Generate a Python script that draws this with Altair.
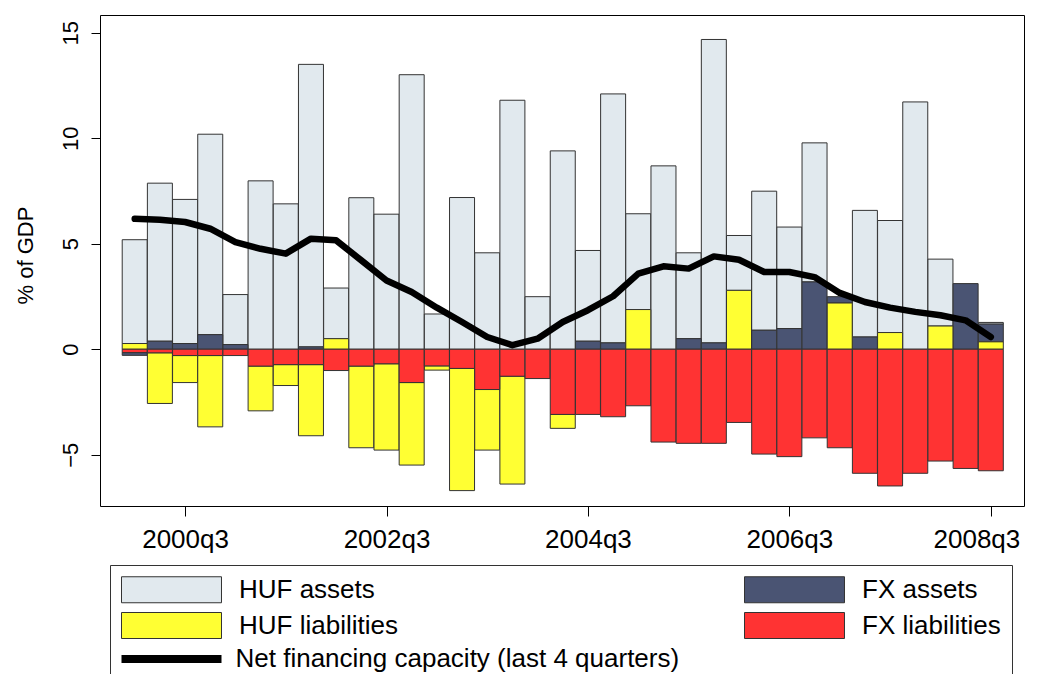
import json
import altair as alt
import pandas as pd

quarters = [
    "2000q1", "2000q2", "2000q3", "2000q4", "2001q1", "2001q2", "2001q3", "2001q4",
    "2002q1", "2002q2", "2002q3", "2002q4", "2003q1", "2003q2", "2003q3", "2003q4",
    "2004q1", "2004q2", "2004q3", "2004q4", "2005q1", "2005q2", "2005q3", "2005q4",
    "2006q1", "2006q2", "2006q3", "2006q4", "2007q1", "2007q2", "2007q3", "2007q4",
    "2008q1", "2008q2", "2008q3",
]
tick_labels = ["2000q3", "2002q3", "2004q3", "2006q3", "2008q3"]

huf_assets = [4.92, 7.49, 6.83, 9.50, 2.37, 7.98, 6.89, 13.39, 2.40, 7.18, 6.40, 13.01,
              1.67, 7.19, 4.57, 11.80, 2.49, 9.40, 4.30, 11.80, 4.54, 8.69, 4.07, 14.38,
              2.60, 6.59, 4.81, 6.59, 0.0, 6.00, 5.31, 11.72, 3.17, 0.0, 0.08]
fx_assets = [-0.13, 0.38, 0.27, 0.69, 0.22, 0.0, 0.0, 0.11, 0.0, 0.0, 0.0, 0.0,
             0.0, 0.0, 0.0, 0.0, 0.0, 0.0, 0.38, 0.30, 0.0, 0.0, 0.50, 0.30,
             0.0, 0.90, 0.98, 3.19, 0.30, 0.58, 0.0, 0.0, 0.0, 3.11, 0.84]
huf_liab = [0.27, -2.40, -1.28, -3.38, 0.0, -2.12, -0.99, -3.37, 0.50, -3.87, -4.09, -3.91,
            -0.20, -5.79, -2.87, -5.11, 0.0, -0.66, 0.0, 0.0, 1.88, 0.0, 0.0, 0.0,
            2.79, 0.0, 0.0, 0.0, 2.19, 0.0, 0.79, 0.0, 1.10, 0.0, 0.35]
fx_liab = [-0.16, -0.17, -0.30, -0.30, -0.30, -0.80, -0.73, -0.73, -1.01, -0.80, -0.69, -1.58,
           -0.79, -0.91, -1.91, -1.28, -1.39, -3.09, -3.09, -3.20, -2.68, -4.40, -4.46, -4.46,
           -3.47, -4.97, -5.09, -4.20, -4.67, -5.88, -6.48, -5.88, -5.30, -5.65, -5.76]
net_capacity = [6.18, 6.14, 6.03, 5.71, 5.08, 4.76, 4.53, 5.24, 5.16, 4.21, 3.26, 2.71,
                1.97, 1.29, 0.58, 0.19, 0.50, 1.29, 1.85, 2.51, 3.58, 3.93, 3.82, 4.40,
                4.24, 3.66, 3.66, 3.42, 2.67, 2.24, 1.97, 1.77, 1.61, 1.37, 0.58]

# legend order (column-wise: left column HUF, right column FX)
series_names = ["HUF assets", "HUF liabilities", "FX assets", "FX liabilities"]
series_colors = ["#e1e9ee", "#ffff33", "#4a5473", "#ff3333"]
stack_order = {"FX liabilities": 0, "HUF liabilities": 1, "FX assets": 2, "HUF assets": 3}
series_values = {
    "HUF assets": huf_assets,
    "FX assets": fx_assets,
    "HUF liabilities": huf_liab,
    "FX liabilities": fx_liab,
}
net_label = "Net financing capacity (last 4 quarters)"

rows = []
for name, vals in series_values.items():
    for i, v in enumerate(vals):
        rows.append({"i": i, "quarter": quarters[i], "series": name,
                     "value": v, "ord": stack_order[name]})
bars_df = pd.DataFrame(rows)
line_df = pd.DataFrame({"i": list(range(len(quarters))), "quarter": quarters,
                        "net": net_capacity, "label": net_label})

FONT = "Liberation Sans"
x_scale = alt.Scale(domain=[-1.18, 35.12], nice=False, zero=False)
y_scale = alt.Scale(domain=[-7.43, 15.84], nice=False, zero=False)
tick_idx = [quarters.index(t) for t in tick_labels]

x_axis = alt.Axis(values=tick_idx, labelExpr=json.dumps(quarters) + "[datum.value]",
                  title=None, grid=False, domain=False, tickSize=10, tickColor="black",
                  labelFont=FONT, labelFontSize=26, labelColor="black", labelPadding=10,
                  labelFlush=40, labelFlushOffset=29)
y_axis = alt.Axis(values=[-5, 0, 5, 10, 15], title="% of GDP", grid=False, domain=False,
                  tickSize=9, tickColor="black", labelFont=FONT, labelFontSize=22,
                  labelColor="black", labelAngle=270, labelAlign="center",
                  labelBaseline="bottom", labelPadding=9,
                  titleFont=FONT, titleFontSize=22, titleFontWeight="normal",
                  titleColor="black", titleAngle=270, titleX=-75, titleY=240,
                  titleAlign="center", titleBaseline="middle")

bars = alt.Chart(bars_df).transform_filter("datum.value != 0").mark_bar(
    width=25, stroke="#333333", strokeWidth=1
).encode(
    x=alt.X("i:Q", scale=x_scale, axis=x_axis),
    y=alt.Y("value:Q", stack="zero", scale=y_scale, axis=y_axis),
    color=alt.Color("series:N",
                    scale=alt.Scale(domain=series_names, range=series_colors),
                    legend=alt.Legend(
                        title=" ", titleOrient="bottom", titleFontSize=40,
                        orient="none", legendX=10, legendY=550,
                        columns=2, columnPadding=344, rowPadding=5, padding=11,
                        strokeColor="#333333",
                        symbolType="M-3.846,-1H3.846V1H-3.846Z", symbolSize=676,
                        symbolOffset=37, labelOffset=54,
                        symbolStrokeColor="#333333", symbolStrokeWidth=1,
                        labelFont=FONT, labelFontSize=26, labelColor="black",
                        labelLimit=0)),
    order=alt.Order("ord:Q"),
)

line = alt.Chart(line_df).mark_line(
    strokeWidth=6.5, strokeJoin="round", strokeCap="round"
).encode(
    x=alt.X("i:Q", scale=x_scale, axis=x_axis),
    y=alt.Y("net:Q", scale=y_scale, axis=y_axis),
    stroke=alt.Stroke("label:N",
                      scale=alt.Scale(domain=[net_label], range=["black"]),
                      legend=alt.Legend(
                          title=None, orient="none", legendX=21, legendY=627,
                          padding=0, symbolType="M-3.846,0H3.846", symbolSize=676,
                          symbolOffset=33.5, labelOffset=47, symbolStrokeWidth=8,
                          symbolStrokeColor="black",
                          labelFont=FONT, labelFontSize=26, labelColor="black",
                          labelLimit=0)),
)

chart = alt.layer(bars, line).resolve_legend(color="independent", stroke="independent").properties(
    width=924, height=491,
    autosize=alt.AutoSizeParams(type="none"),
    padding={"left": 92, "top": 7, "right": 2, "bottom": 168},
    background="white",
).configure_view(stroke="black", strokeWidth=1)

chart.save("out.html", embed_options={"renderer": "svg", "actions": False})
